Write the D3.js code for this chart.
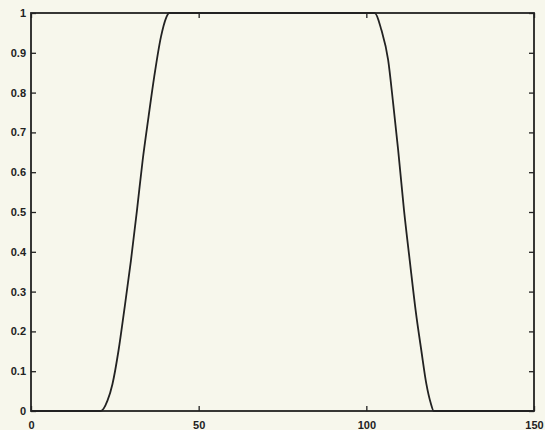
<!DOCTYPE html>
<html>
<head>
<meta charset="utf-8">
<script src="https://cdn.jsdelivr.net/npm/d3@7"></script>
<style>
  html, body { margin: 0; padding: 0; background: #f7f7ec; }
  svg { display: block; }
  .tick text { font-family: Arial, "Liberation Sans", sans-serif; font-weight: bold; font-size: 11px; fill: #222; }
</style>
</head>
<body>
<div id="chart"></div>
<script>
// Membership curve: flat at 0, smooth rise, plateau at 1, smooth fall, back to 0
const xValues = [0, 20.8, 22.8, 24.3, 26.1, 27.8, 29.8, 31.6, 33.3, 35.05, 36.75, 38.75, 40.3, 41.2,
                 102.5, 104.5, 106.5, 108.0, 109.5, 111.24, 112.95, 114.7, 116.4, 117.9, 119.2, 120.1, 150];
const yValues = [0, 0, 0.026, 0.068, 0.152, 0.253, 0.378, 0.504, 0.630, 0.739, 0.840, 0.940, 0.988, 1,
                 1, 0.957, 0.882, 0.773, 0.655, 0.504, 0.378, 0.253, 0.152, 0.068, 0.02, 0, 0];
const xTicks = [0, 50, 100, 150];
const yTicks = [0, 0.1, 0.2, 0.3, 0.4, 0.5, 0.6, 0.7, 0.8, 0.9, 1];

const W = 545, H = 430;
const margin = { left: 31, right: 11, top: 13, bottom: 19 };
const iw = W - margin.left - margin.right;
const ih = H - margin.top - margin.bottom;

const svg = d3.select("#chart").append("svg").attr("width", W).attr("height", H);
svg.append("rect").attr("width", W).attr("height", H).attr("fill", "#f7f7ec");

const g = svg.append("g").attr("transform", `translate(${margin.left},${margin.top})`);

const x = d3.scaleLinear().domain([0, 150]).range([0, iw]);
const y = d3.scaleLinear().domain([0, 1]).range([ih, 0]);

const fmt = d => d === 0 ? "0" : d === 1 ? "1" : d3.format(".1f")(d);

// bottom axis with inward ticks
const bx = g.append("g").attr("transform", `translate(0,${ih})`)
  .call(d3.axisBottom(x).tickValues(xTicks).tickSizeInner(-5).tickSizeOuter(0).tickPadding(8).tickFormat(d3.format("d")));
// top axis ticks (no labels)
const tx = g.append("g")
  .call(d3.axisTop(x).tickValues(xTicks).tickSizeInner(-5).tickSizeOuter(0).tickFormat(""));
// left axis with labels
const ly = g.append("g")
  .call(d3.axisLeft(y).tickValues(yTicks).tickSizeInner(-5).tickSizeOuter(0).tickPadding(5).tickFormat(fmt));
// right axis ticks
const ry = g.append("g").attr("transform", `translate(${iw},0)`)
  .call(d3.axisRight(y).tickValues(yTicks).tickSizeInner(-5).tickSizeOuter(0).tickFormat(""));

[bx, tx, ly, ry].forEach(a => {
  a.select(".domain").remove();
  a.selectAll(".tick line").attr("stroke", "#222").attr("stroke-width", 1.3);
});
bx.selectAll(".tick text").attr("dy", "0.9em");

// frame
g.append("rect").attr("x", 0).attr("y", 0).attr("width", iw).attr("height", ih)
  .attr("fill", "none").attr("stroke", "#222").attr("stroke-width", 1.8);

// curve
const pts = xValues.map((v, i) => [v, yValues[i]]);
const line = d3.line().x(d => x(d[0])).y(d => y(d[1])).curve(d3.curveMonotoneX);
g.append("path").datum(pts).attr("d", line)
  .attr("fill", "none").attr("stroke", "#222").attr("stroke-width", 1.8);
</script>
</body>
</html>
